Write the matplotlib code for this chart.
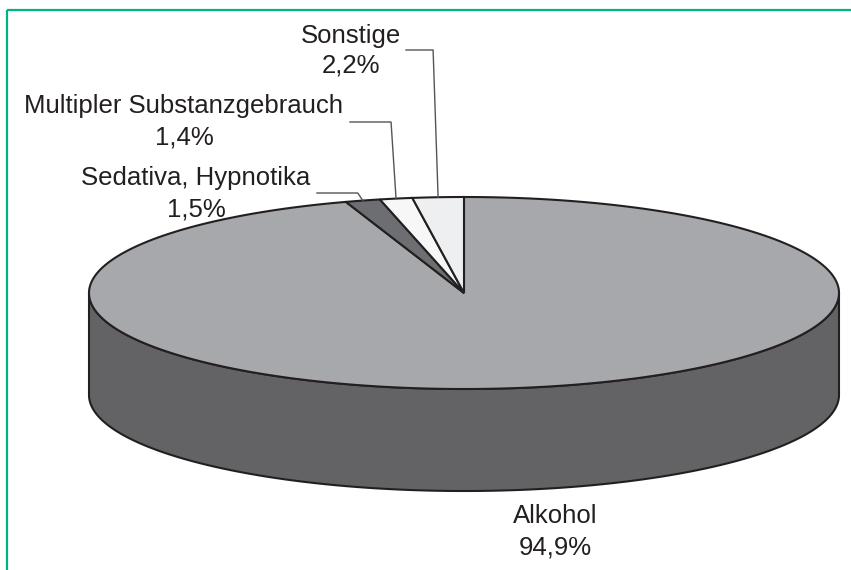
import numpy as np
import matplotlib
matplotlib.use('Agg')
import matplotlib.pyplot as plt
from matplotlib.patches import Polygon

plt.rcParams['font.family'] = ['Liberation Sans', 'DejaVu Sans']

# data
names = ['Alkohol', 'Sedativa, Hypnotika', 'Multipler Substanzgebrauch', 'Sonstige']
values = [94.9, 1.5, 1.4, 2.2]
pct_labels = ['94,9%', '1,5%', '1,4%', '2,2%']
top_colors = ['#a7a8ab', '#6d6e71', '#f7f7f7', '#eeeff1']
side_color = '#636365'
edge = '#231f20'

# pie geometry in pixels
cx, cy = 464, 293
rx, ry = 375, 96
depth = 102

fig = plt.figure(figsize=(8.51, 5.70), dpi=100)
ax = fig.add_axes([0, 0, 1, 1])
ax.set_xlim(0, 851)
ax.set_ylim(570, 0)
ax.axis('off')

def pt(deg, dy=0):
    t = np.radians(deg)
    return cx + rx * np.cos(t), cy - ry * np.sin(t) + dy

# side (front half of the cake)
a = np.linspace(180, 360, 200)
top = [pt(d) for d in a]
bot = [pt(d, depth) for d in a[::-1]]
ax.add_patch(Polygon(top + bot, closed=True, fc=side_color, ec=edge, lw=1.5, zorder=1))

# top wedges, clockwise from 12 o'clock
angles = np.array(values) / sum(values) * 360
start = 90.0
mids = []
for v, col in zip(angles, top_colors):
    end = start - v
    arc = np.linspace(start, end, max(int(v * 2), 4))
    verts = [(cx, cy)] + [pt(d) for d in arc]
    ax.add_patch(Polygon(verts, closed=True, fc=col, ec=edge, lw=1.5,
                         joinstyle='miter', zorder=2))
    mids.append((start + end) / 2)
    start = end

# labels
txt = dict(ha='center', va='baseline', fontsize=18.5, color=edge)
# Alkohol below the cake
ax.text(555, 523, names[0], **txt)
ax.text(555, 554, pct_labels[0], **txt)

# small slices with leader lines: (text x, baseline 1, baseline 2, line start x, line y)
small = [
    (196, 185, 217, 317, 193),
    (184, 113, 144, 350, 122),
    (351, 43, 73, 406, 50),
]
for i, (tx, b1, b2, lx, ly) in zip([1, 2, 3], small):
    ax.text(tx, b1, names[i], **txt)
    ax.text(tx, b2, pct_labels[i], **txt)
    ex, ey = pt(mids[i])
    ax.plot([lx, ex - 5, ex], [ly, ly, ey], color='#555555', lw=1.0, zorder=3)

# green frame (top and left only)
ax.plot([7, 851], [10, 10], color='#00b386', lw=1.6, solid_capstyle='butt')
ax.plot([7, 7], [10, 570], color='#00b386', lw=1.6, solid_capstyle='butt')

fig.savefig('out.png', dpi=100)
